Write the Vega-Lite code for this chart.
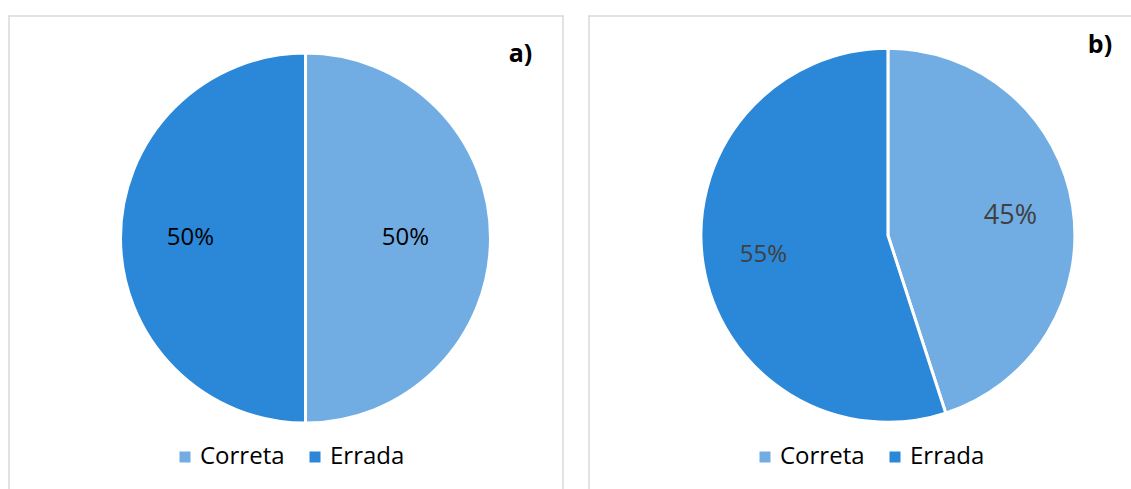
{
  "$schema": "https://vega.github.io/schema/vega-lite/v6.json",
  "padding": {"left": 8, "top": 15, "right": 0, "bottom": 0},
  "spacing": 24,
  "background": "white",
  "config": {
    "view": {"stroke": "#d9d9d9", "strokeWidth": 1.5},
    "font": "Open Sans",
    "legend": {
      "orient": "none",
      "direction": "horizontal",
      "title": null,
      "labelFont": "Open Sans",
      "labelFontSize": 24,
      "labelColor": "#000000",
      "symbolType": "square",
      "symbolSize": 121,
      "symbolStrokeWidth": 0,
      "labelOffset": 3,
      "columnPadding": 18,
      "legendX": 164,
      "legendY": 429
    }
  },
  "datasets": {
    "a": [
      {"cat": "Correta", "pct": 0.5},
      {"cat": "Errada", "pct": 0.5}
    ],
    "b": [
      {"cat": "Correta", "pct": 0.45},
      {"cat": "Errada", "pct": 0.55}
    ],
    "ta": [{"t": "a)"}],
    "tb": [{"t": "b)"}]
  },
  "hconcat": [
    {
      "width": 554,
      "height": 474,
      "layer": [
        {
          "data": {"name": "a"},
          "mark": {"type": "arc", "outerRadius": 185, "stroke": "white", "strokeWidth": 3},
          "encoding": {
            "theta": {"field": "pct", "type": "quantitative", "stack": true},
            "color": {"field": "cat", "type": "nominal", "scale": {"domain": ["Correta", "Errada"], "range": ["#71ade3", "#2b87d8"]}},
            "x": {"datum": 0.5352, "type": "quantitative", "scale": {"domain": [0, 1]}, "axis": null},
            "y": {"datum": 0.4685, "type": "quantitative", "scale": {"domain": [0, 1], "reverse": true}, "axis": null}
          }
        },
        {
          "data": {"name": "a"},
          "mark": {"type": "text", "radius": {"expr": "datum.cat === 'Correta' ? 100 : 115"}, "fontSize": 24, "color": "#000000", "font": "Open Sans", "baseline": "middle", "align": "center"},
          "encoding": {
            "theta": {"field": "pct", "type": "quantitative", "stack": true},
            "detail": {"field": "cat", "type": "nominal"},
            "text": {"field": "pct", "type": "quantitative", "format": ".0%"},
            "x": {"datum": 0.5352, "type": "quantitative"},
            "y": {"datum": 0.4685, "type": "quantitative"}
          }
        },
        {
          "data": {"name": "ta"},
          "mark": {"type": "text", "fontSize": 25, "fontWeight": "bold", "color": "#000000", "font": "Open Sans", "baseline": "middle", "align": "center"},
          "encoding": {
            "text": {"field": "t", "type": "nominal"},
            "x": {"datum": 0.9233, "type": "quantitative"},
            "y": {"datum": 0.0802, "type": "quantitative"}
          }
        }
      ]
    },
    {
      "width": 543,
      "height": 474,
      "layer": [
        {
          "data": {"name": "b"},
          "mark": {"type": "arc", "outerRadius": 187, "stroke": "white", "strokeWidth": 3},
          "encoding": {
            "theta": {"field": "pct", "type": "quantitative", "stack": true},
            "color": {"field": "cat", "type": "nominal", "scale": {"domain": ["Correta", "Errada"], "range": ["#71ade3", "#2b87d8"]}},
            "x": {"datum": 0.5505, "type": "quantitative", "scale": {"domain": [0, 1]}, "axis": null},
            "y": {"datum": 0.4625, "type": "quantitative", "scale": {"domain": [0, 1], "reverse": true}, "axis": null}
          }
        },
        {
          "data": {"name": "b"},
          "mark": {"type": "text", "radius": {"expr": "datum.cat === 'Correta' ? 124 : 126"}, "fontSize": {"expr": "datum.cat === 'Correta' ? 27 : 24"}, "color": "#404040", "font": "Open Sans", "baseline": "middle", "align": "center"},
          "encoding": {
            "theta": {"field": "pct", "type": "quantitative", "stack": true},
            "detail": {"field": "cat", "type": "nominal"},
            "text": {"field": "pct", "type": "quantitative", "format": ".0%"},
            "x": {"datum": 0.5505, "type": "quantitative"},
            "y": {"datum": 0.4625, "type": "quantitative"}
          }
        },
        {
          "data": {"name": "tb"},
          "mark": {"type": "text", "fontSize": 25, "fontWeight": "bold", "color": "#000000", "font": "Open Sans", "baseline": "middle", "align": "center"},
          "encoding": {
            "text": {"field": "t", "type": "nominal"},
            "x": {"datum": 0.941, "type": "quantitative"},
            "y": {"datum": 0.0622, "type": "quantitative"}
          }
        }
      ]
    }
  ],
  "resolve": {"legend": {"color": "independent"}, "scale": {"color": "independent"}}
}
